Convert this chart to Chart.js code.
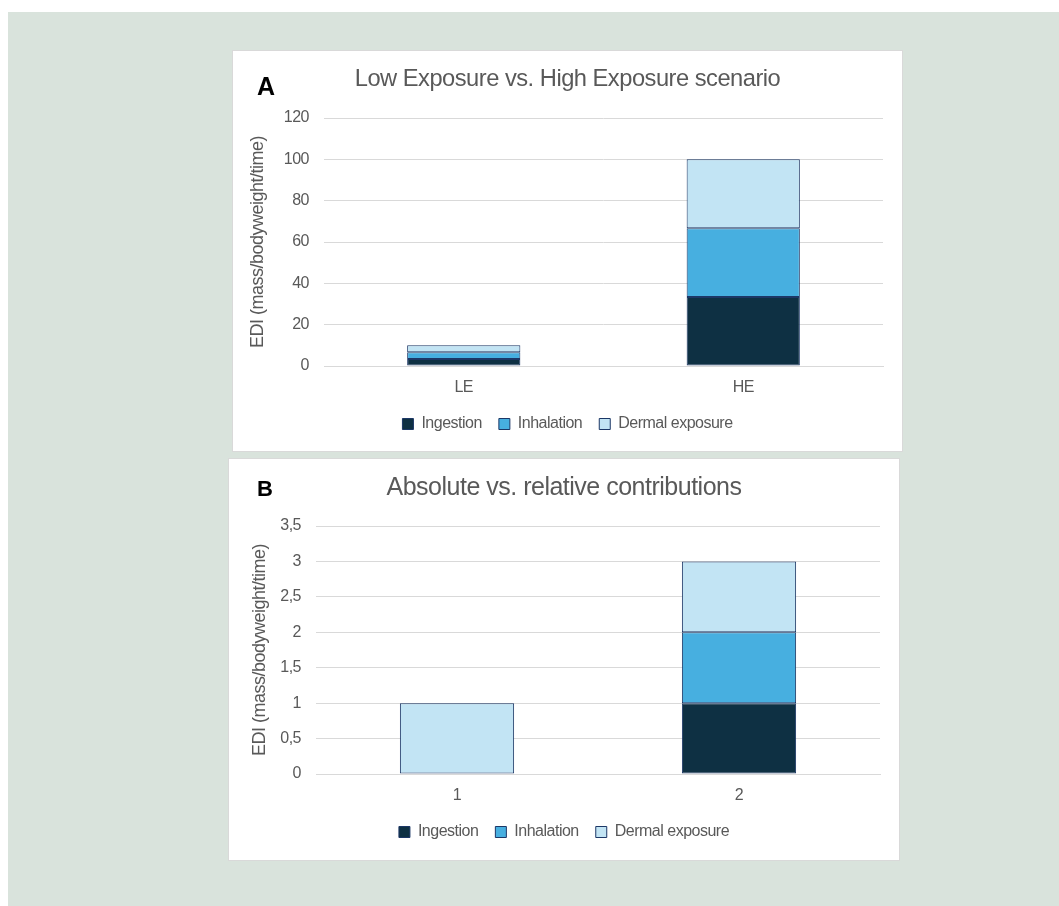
<!DOCTYPE html>
<html>
<head>
<meta charset="utf-8">
<script src="https://cdn.jsdelivr.net/npm/chart.js@4.4.1/dist/chart.umd.min.js"></script>
<style>
  html, body { margin: 0; padding: 0; background: #ffffff; width: 1059px; height: 906px; overflow: hidden; }
  #backdrop { position: absolute; left: 8px; top: 12px; right: 0; bottom: 0; background: #d9e3dc; }
  .panel { position: absolute; box-sizing: border-box; background: #ffffff; border: 1px solid #d9d9d9; }
  .panel canvas { display: block; }
  #panelA { left: 232px; top: 50px; width: 671px; height: 402px; }
  #panelB { left: 228px; top: 458px; width: 672px; height: 403px; }
</style>
</head>
<body>
<div id="backdrop"></div>
<div class="panel" id="panelA"><canvas id="chartA" width="669" height="400"></canvas></div>
<div class="panel" id="panelB"><canvas id="chartB" width="670" height="401"></canvas></div>
<script>
// Scenario A: low vs. high exposure
const categoriesA = ['LE', 'HE'];
const ingestionA = [3.33, 33.33];
const inhalationA = [3.33, 33.33];
const dermalA = [3.33, 33.33];

// Scenario B: absolute vs. relative contributions
const categoriesB = ['1', '2'];
const ingestionB = [0, 1];
const inhalationB = [0, 1];
const dermalB = [1, 1];

const seriesNames = ['Ingestion', 'Inhalation', 'Dermal exposure'];
const seriesColors = ['#0e3043', '#47afe0', '#c2e4f4'];
const edgeColor = '#1c3766';
const textColor = '#595959';
const fontFamily = '"Liberation Sans", Arial, sans-serif';

// Decimal comma on the value axis (3,5 / 0,5 / 1)
const commaTick = value => String(value).replace('.', ',');

// Slightly condensed text throughout, plus the bold panel letter
const panelText = {
  id: 'panelText',
  beforeUpdate(chart) { chart.ctx.letterSpacing = '-0.5px'; },
  beforeDraw(chart) { chart.ctx.letterSpacing = '-0.5px'; },
  afterDraw(chart, args, opts) {
    const ctx = chart.ctx;
    ctx.save();
    ctx.letterSpacing = '0px';
    ctx.font = 'bold ' + opts.size + 'px ' + fontFamily;
    ctx.fillStyle = '#000000';
    ctx.textBaseline = 'middle';
    ctx.textAlign = 'left';
    ctx.fillText(opts.text, opts.x, opts.y);
    ctx.restore();
  }
};

function makeChart(id, cfg) {
  const datasets = [cfg.ingestion, cfg.inhalation, cfg.dermal].map((values, i) => ({
    label: seriesNames[i],
    data: values,
    backgroundColor: seriesColors[i],
    borderColor: edgeColor,
    borderWidth: 1,
    borderSkipped: false,
    categoryPercentage: 1,
    barPercentage: 0.405
  }));

  return new Chart(document.getElementById(id), {
    type: 'bar',
    data: { labels: cfg.categories, datasets },
    plugins: [panelText],
    options: {
      responsive: false,
      animation: false,
      devicePixelRatio: 1,
      layout: { padding: { left: 0, right: 0, top: 0, bottom: cfg.padBottom } },
      scales: {
        x: {
          stacked: true,
          grid: { display: false, drawTicks: false },
          border: { display: true, color: '#d9d9d9', width: 1 },
          ticks: { color: textColor, font: { family: fontFamily, size: 16 }, padding: cfg.xTickPad },
          afterFit(scale) { scale.height = 33; scale.paddingRight = cfg.padRight; }
        },
        y: {
          stacked: true,
          min: 0,
          max: cfg.yMax,
          ticks: {
            stepSize: cfg.yStep,
            color: textColor,
            font: { family: fontFamily, size: 16 },
            padding: 15,
            callback: commaTick
          },
          grid: { color: '#d9d9d9', lineWidth: 1, drawTicks: false },
          border: { display: false },
          title: {
            display: true,
            text: 'EDI (mass/bodyweight/time)',
            color: textColor,
            font: { family: fontFamily, size: 18 },
            padding: { top: cfg.axisTitlePad, bottom: 0 }
          },
          afterFit(scale) { scale.width = cfg.plotLeft; }
        }
      },
      plugins: {
        title: {
          display: true,
          text: cfg.title,
          color: textColor,
          font: { family: fontFamily, size: cfg.titleSize, weight: 'normal' },
          padding: { top: cfg.titleTop, bottom: cfg.titleBottom }
        },
        legend: {
          position: 'bottom',
          labels: {
            color: textColor,
            font: { family: fontFamily, size: 16 },
            boxWidth: 11,
            boxHeight: 11,
            padding: 17
          }
        },
        tooltip: { enabled: false },
        panelText: cfg.panelLabel
      }
    }
  });
}

makeChart('chartA', {
  categories: categoriesA,
  ingestion: ingestionA,
  inhalation: inhalationA,
  dermal: dermalA,
  yMax: 120,
  yStep: 20,
  title: 'Low Exposure vs. High Exposure scenario',
  titleSize: 23.7,
  titleTop: 13.8,
  titleBottom: 24.76,
  padBottom: 9,
  padRight: 19,
  plotLeft: 91,
  xTickPad: 12,
  axisTitlePad: 14,
  panelLabel: { text: 'A', size: 25, x: 24, y: 37 }
});

makeChart('chartB', {
  categories: categoriesB,
  ingestion: ingestionB,
  inhalation: inhalationB,
  dermal: dermalB,
  yMax: 3.5,
  yStep: 0.5,
  title: 'Absolute vs. relative contributions',
  titleSize: 25,
  titleTop: 14,
  titleBottom: 23,
  padBottom: 10,
  padRight: 19,
  plotLeft: 87,
  xTickPad: 12,
  axisTitlePad: 20,
  panelLabel: { text: 'B', size: 22, x: 28, y: 31 }
});
</script>
</body>
</html>
